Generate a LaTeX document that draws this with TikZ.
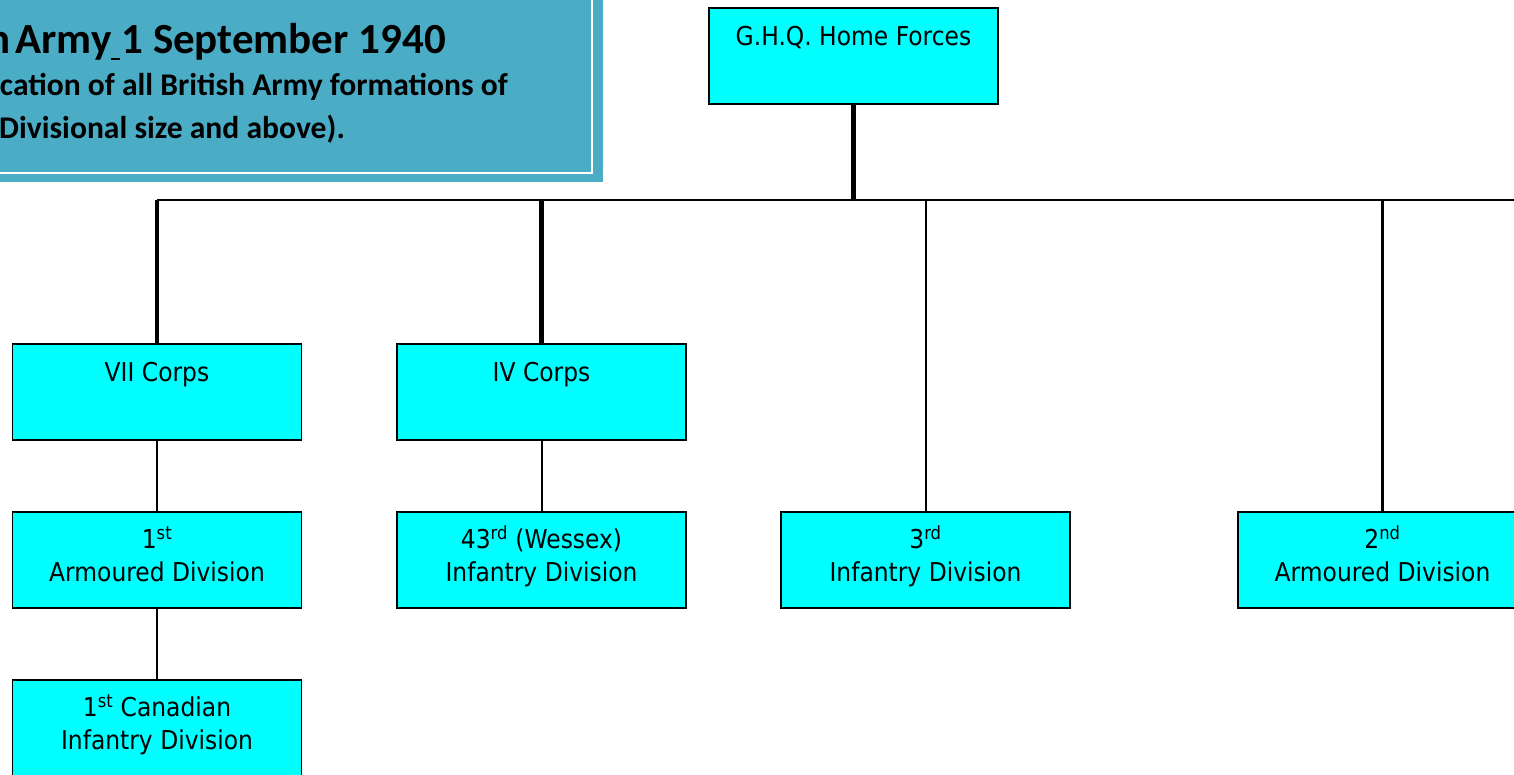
\documentclass[tikz,border=0pt]{standalone}
\usepackage{fontspec}
\setmainfont{DejaVu Sans}[FakeStretch=0.9]
\newfontfamily\titlefont{Carlito}[BoldFont={Carlito Bold}]
\definecolor{boxcyan}{RGB}{0,255,255}
\definecolor{titleteal}{RGB}{75,172,198}
\begin{document}
\begin{tikzpicture}[x=1pt,y=-1pt,
  unitbox/.style={draw=black, line width=1.5pt, fill=boxcyan, minimum width=289pt, minimum height=96pt, inner sep=0pt},
  unittext/.style={anchor=north, align=center, inner sep=0pt, font=\fontsize{26}{33}\selectfont},
  heavy/.style={line width=4.5pt},
  bus/.style={line width=2.3pt},
  link/.style={line width=2pt},
  ttl/.style={inner sep=0pt, font=\titlefont\bfseries}
]
\useasboundingbox (0,0) rectangle (1514,774);
% title panel
\fill[titleteal] (-20,-20) rectangle (603,182);
\draw[white, line width=2.5pt] (-20,-20) rectangle (592,173);
\node[ttl, anchor=base east, font=\titlefont\bfseries\fontsize{43}{50}\selectfont] (t1) at (446,53) {n\kern-5pt\ Army\makebox[10pt][l]{\rule[-7pt]{9pt}{2pt}}1 September 1940};
\node[ttl, anchor=base east, font=\titlefont\bfseries\fontsize{31.6}{37}\selectfont] (t2) at (508,95) {cation of all British Army formations of};
\node[ttl, anchor=base east, font=\titlefont\bfseries\fontsize{31.6}{37}\selectfont] (t3) at (345,138) {Divisional size and above).};
% boxes
\node[unitbox] (ghq) at (853.5,56) {};
\node[unitbox] (vii) at (157,392) {};
\node[unitbox] (iv) at (541.5,392) {};
\node[unitbox] (ad1) at (157,560) {};
\node[unitbox] (id43) at (541.5,560) {};
\node[unitbox] (id3) at (925.5,560) {};
\node[unitbox] (ad2) at (1382.5,560) {};
\node[unitbox] (cid1) at (157,728) {};
% texts
\node[unittext] (ghq-t) at ([yshift=-14pt]ghq.north) {\rule{0pt}{24pt}G.H.Q. Home Forces};
\node[unittext] (vii-t) at ([yshift=-14pt]vii.north) {\rule{0pt}{24pt}VII Corps};
\node[unittext] (iv-t) at ([yshift=-14pt]iv.north) {\rule{0pt}{24pt}IV Corps};
\node[unittext] (ad1-t) at ([yshift=-13.5pt]ad1.north) {\rule{0pt}{24pt}1\textsuperscript{st}\\Armoured Division};
\node[unittext] (id43-t) at ([yshift=-13.5pt]id43.north) {\rule{0pt}{24pt}43\textsuperscript{rd} (Wessex)\\Infantry Division};
\node[unittext] (id3-t) at ([yshift=-13.5pt]id3.north) {\rule{0pt}{24pt}3\textsuperscript{rd}\\Infantry Division};
\node[unittext] (ad2-t) at ([yshift=-13.5pt]ad2.north) {\rule{0pt}{24pt}2\textsuperscript{nd}\\Armoured Division};
\node[unittext] (cid1-t) at ([yshift=-13.5pt]cid1.north) {\rule{0pt}{24pt}1\textsuperscript{st} Canadian\\Infantry Division};
% connectors
\coordinate (busL) at (156.7,200);
\coordinate (busR) at (1514,200);
\draw[heavy] (ghq.south) -- (ghq.south |- busL);
\draw[bus] (busL) -- (busR);
\draw[heavy] (vii.north |- busL) -- (vii.north);
\draw[heavy] (iv.north |- busL) -- (iv.north);
\draw[link] (id3.north |- busL) -- (id3.north);
\draw[line width=2.7pt] (ad2.north |- busL) -- (ad2.north);
\draw[link] (vii.south) -- (ad1.north);
\draw[link] (ad1.south) -- (cid1.north);
\draw[link] (iv.south) -- (id43.north);
\end{tikzpicture}
\end{document}
